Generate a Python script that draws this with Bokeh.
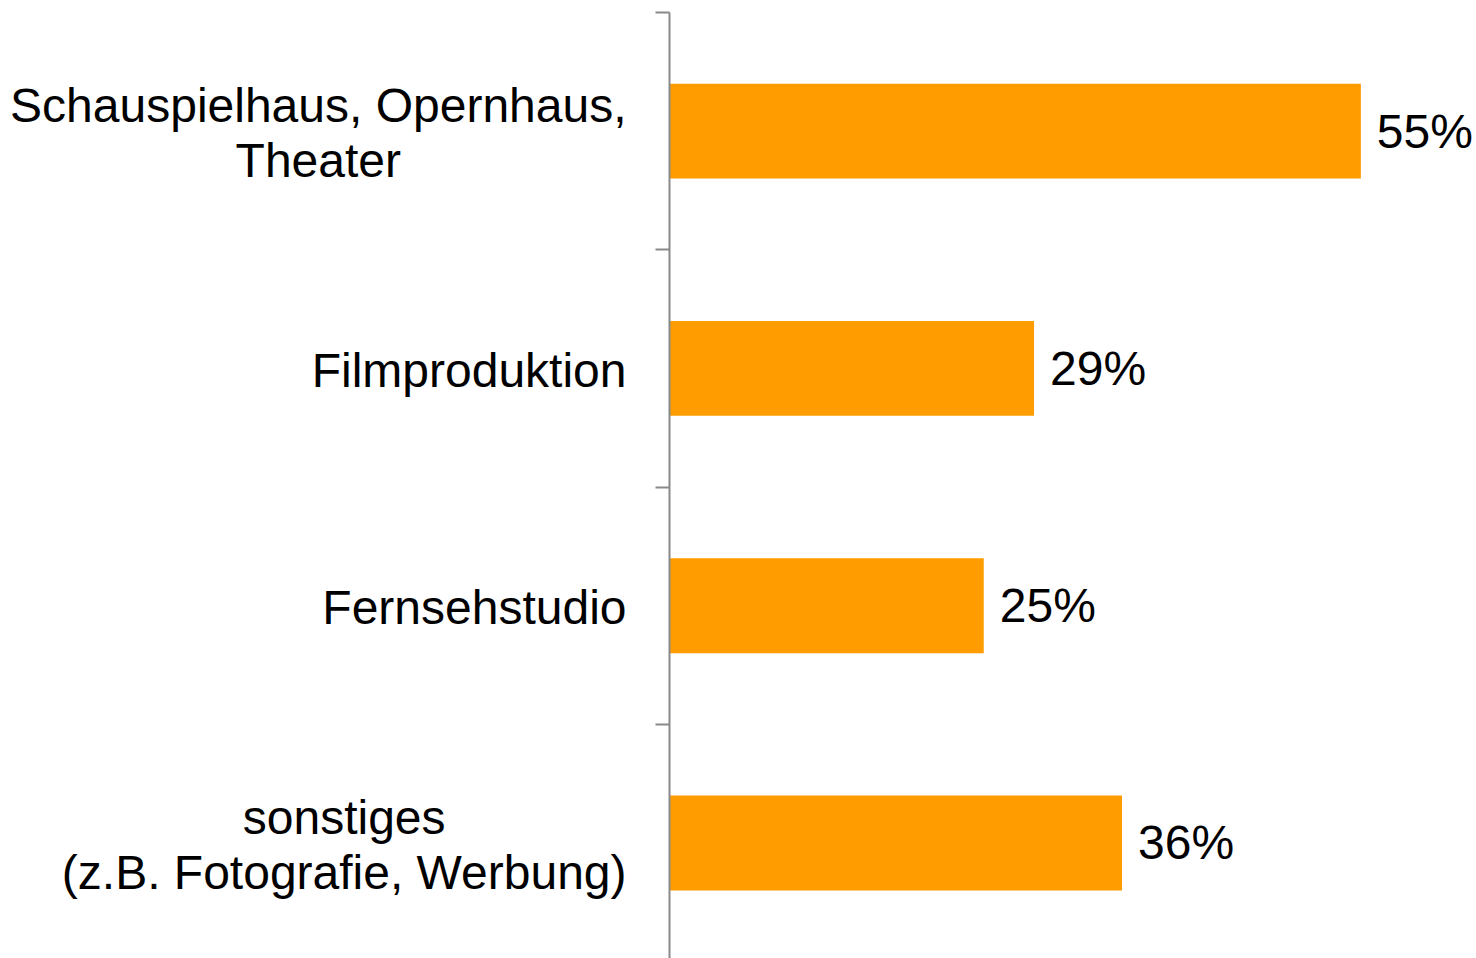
from bokeh.plotting import figure
from bokeh.models import ColumnDataSource, Range1d, FixedTicker
from bokeh.core.properties import value
from bokeh.embed import file_html
from bokeh.resources import INLINE

categories = [
    "Schauspielhaus, Opernhaus,\nTheater",
    "Filmproduktion",
    "Fernsehstudio",
    "sonstiges\n(z.B. Fotografie, Werbung)",
]
values = [55, 29, 25, 36]
value_labels = [f"{v}%" for v in values]

positions = [i + 0.5 for i in range(len(categories))]
source = ColumnDataSource(dict(y=positions, v=values, lab=value_labels,
                               cat=categories, zero=[0] * len(values)))

p = figure(
    width=1476, height=958,
    output_backend="svg", toolbar_location=None,
    x_range=Range1d(0, 64.2), y_range=Range1d(len(categories) - 0.013, 0),
    x_axis_location=None,
    min_border_left=669, min_border_right=0,
    min_border_top=12, min_border_bottom=0,
)
p.outline_line_color = None
p.xgrid.visible = False
p.ygrid.visible = False
p.background_fill_color = "white"
p.border_fill_color = "white"

p.hbar(y="y", right="v", left=0, height=0.4, source=source,
       fill_color="#FF9C00", line_color=None)

p.text(x="v", y="y", text="lab", source=source, x_offset=16,
       text_align="left", text_baseline="middle",
       text_font=value("Liberation Sans"), text_font_size="48px",
       text_color="black")

# category labels: block right-aligned next to the axis, lines centred
p.text(x="zero", y="y", text="cat", source=source, x_offset=-43, y_offset=2,
       anchor="center_right", text_align="center",
       text_line_height=1.05, level="overlay",
       text_font=value("Liberation Sans"), text_font_size="48px",
       text_color="black")

ax = p.yaxis[0]
ax.ticker = FixedTicker(ticks=positions, minor_ticks=list(range(len(categories) + 1)))
ax.major_label_overrides = {pos: "" for pos in positions}
ax.major_label_text_font_size = "0px"
ax.major_tick_out = 0
ax.major_tick_in = 0
ax.minor_tick_out = 14
ax.minor_tick_in = 0
ax.minor_tick_line_color = "#898989"
ax.minor_tick_line_width = 2
ax.axis_line_color = "#898989"
ax.axis_line_width = 2

open("out.html", "w").write(file_html(p, INLINE))
